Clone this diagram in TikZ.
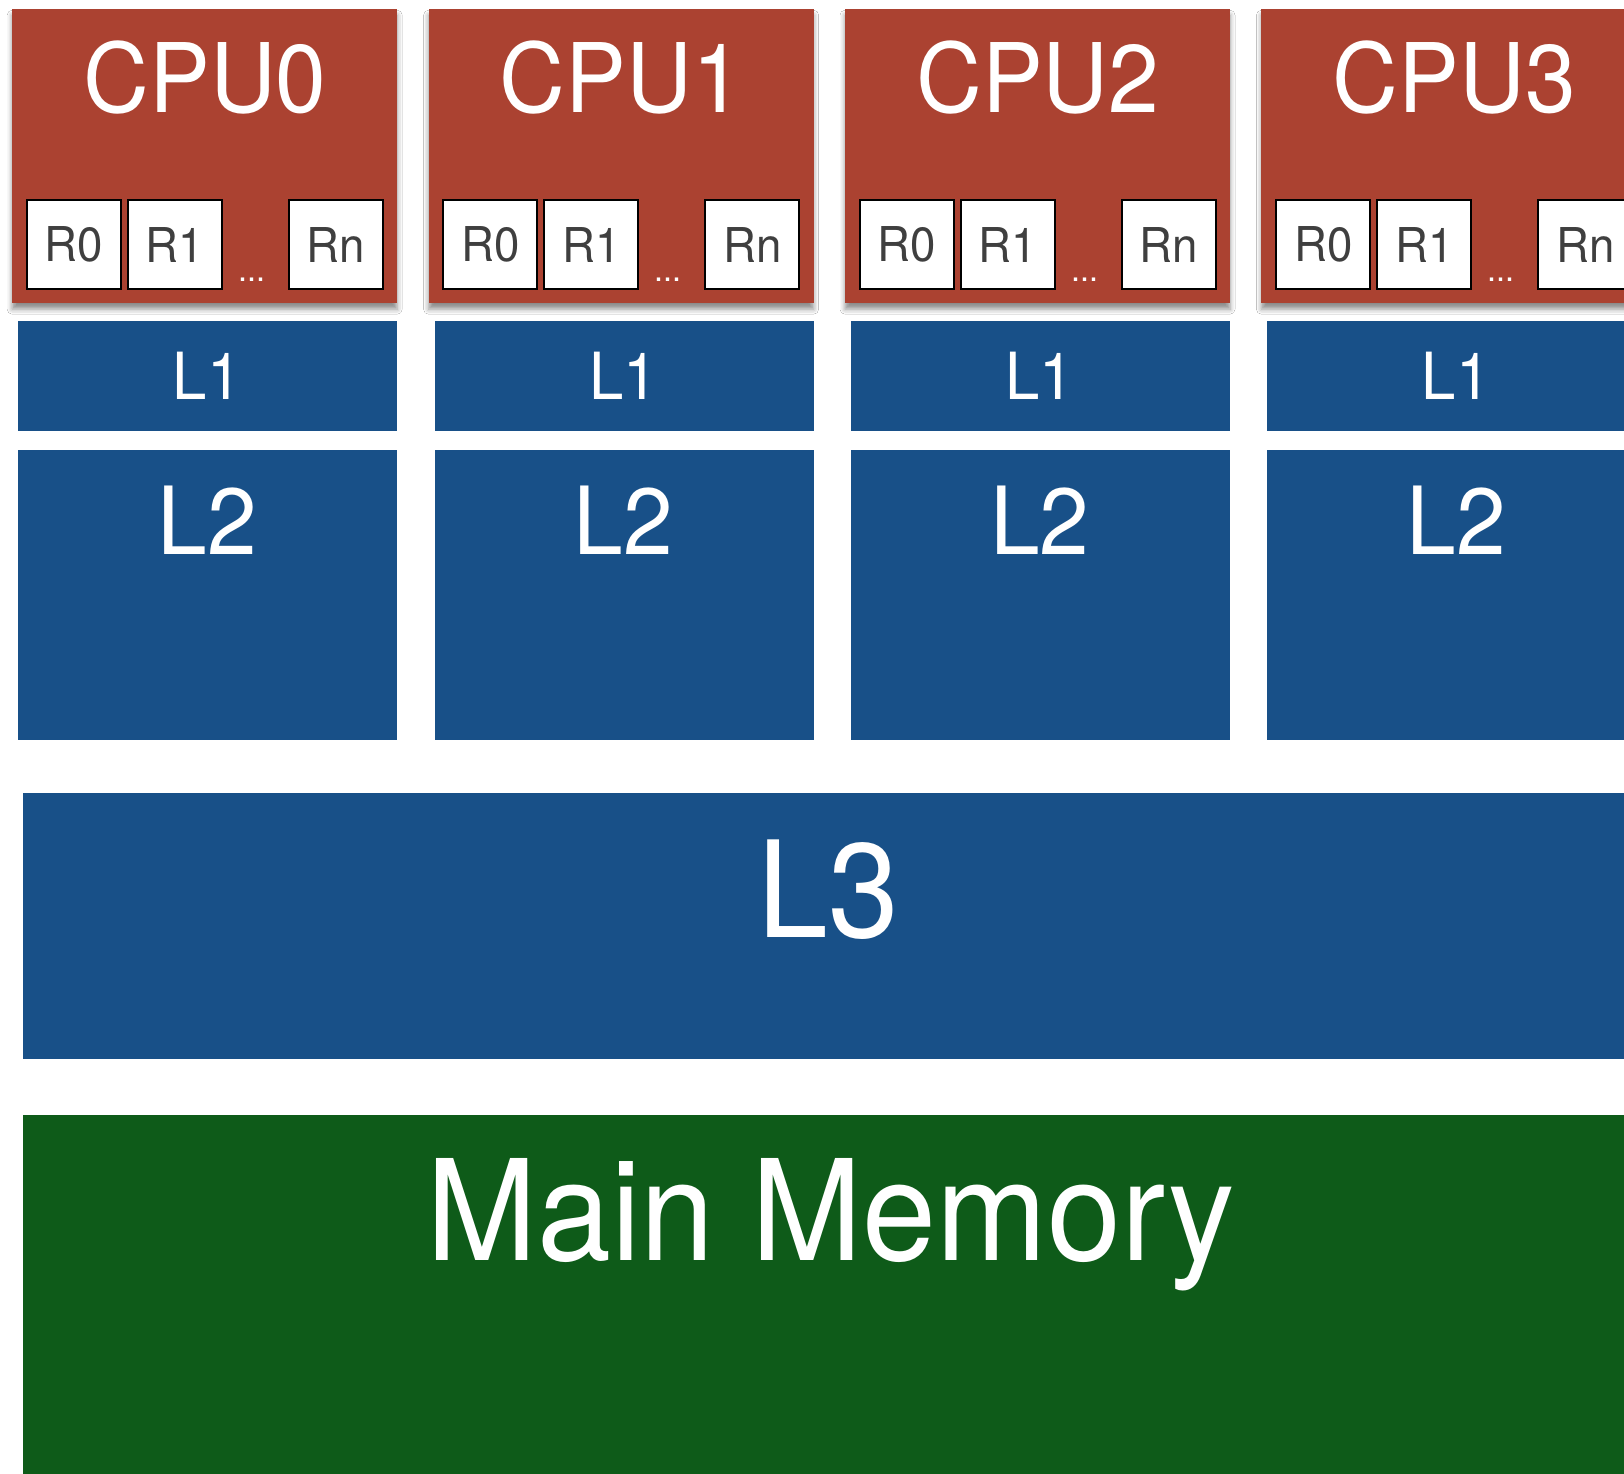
\documentclass[tikz,border=0pt]{standalone}
\usepackage{fontspec}
\setmainfont[FakeStretch=0.95]{TeX Gyre Heros}
\usetikzlibrary{shadows.blur}
\definecolor{cpured}{HTML}{AB4231}
\definecolor{cacheblue}{HTML}{185088}
\definecolor{memgreen}{HTML}{0E5B19}
\definecolor{regtext}{HTML}{3F3F3F}
\newcommand\fsz[1]{\fontsize{#1}{#1}\selectfont}
\tikzset{
  cpubox/.style={fill=cpured, draw=none, anchor=north west, inner sep=0,
    minimum width=385pt, minimum height=294pt,
    blur shadow={shadow xshift=0pt, shadow yshift=-6pt, shadow blur radius=5pt, shadow opacity=45}},
  regbox/.style={fill=white, draw=black, line width=2pt, inner sep=0,
    minimum width=94pt, minimum height=89pt, anchor=north west,
    text=regtext, font=\fsz{48}},
  cachebox/.style={fill=cacheblue, draw=none, anchor=north west, inner sep=0},
  membox/.style={fill=memgreen, draw=none, anchor=north west, inner sep=0},
  whitelabel/.style={text=white, anchor=base, inner sep=0},
}
\begin{document}
\begin{tikzpicture}[x=1pt,y=-1pt]
\useasboundingbox (0,0) rectangle (1624,1473);
\clip (0,0) rectangle (1624,1473);
\fill[white] (0,0) rectangle (1624,1473);

% one core column per CPU: registers, L1 and L2
\foreach \i in {0,1,2,3} {
  \pgfmathsetmacro\cx{12+416.4*\i}
  \pgfmathsetmacro\lx{18+416.4*\i}
  \node[cpubox] (cpu\i) at (\cx,9) {};
  \node[whitelabel, font=\fsz{96}] (cpulabel\i) at (\cx+193,112) {CPU\i};
  \node[regbox] (rzero\i) at (\cx+14,199) {R0};
  \node[regbox] (rone\i) at (\cx+115,199) {R1};
  \node[regbox] (rn\i) at (\cx+276,199) {Rn};
  \node[whitelabel, font=\fsz{34}] (dots\i) at (\cx+240,281) {...};
  \node[cachebox, minimum width=379pt, minimum height=110pt] (lone\i) at (\lx,321) {};
  \node[whitelabel, font=\fsz{65}] (lonelabel\i) at (\lx+189,399) {L1};
  \node[cachebox, minimum width=379pt, minimum height=290pt] (ltwo\i) at (\lx,449.5) {};
  \node[whitelabel, font=\fsz{94}] (ltwolabel\i) at (\lx+189,554) {L2};
}

% shared last-level cache
\node[cachebox, minimum width=1611pt, minimum height=265.5pt] (lthree) at (23,793) {};
\node[whitelabel, font=\fsz{134}] (lthreelabel) at (828.5,937) {L3};

% main memory
\node[membox, minimum width=1616pt, minimum height=400pt] (mem) at (23,1115) {};
\node[whitelabel, font=\fsz{140}] (memlabel) at (831,1260) {Main Memory};
\end{tikzpicture}
\end{document}
